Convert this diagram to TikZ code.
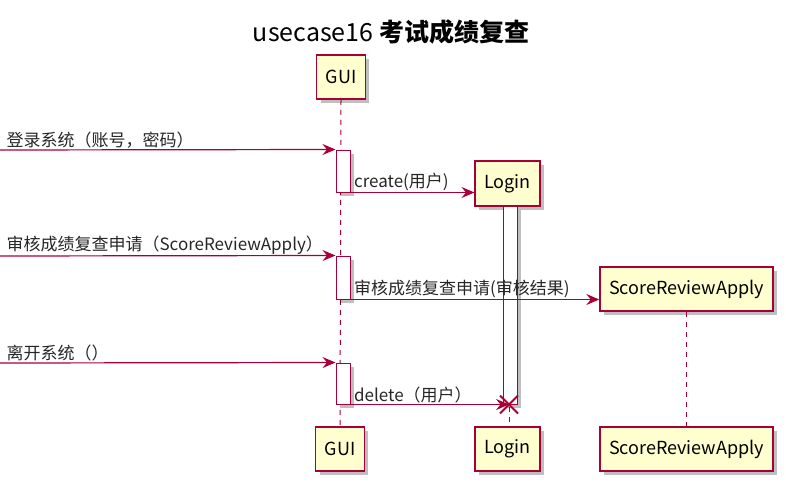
\documentclass[tikz,border=0pt]{standalone}
\usepackage{fontspec}
\setmainfont{Noto Sans CJK SC}
\usetikzlibrary{arrows.meta,shadows,positioning}
\definecolor{umlred}{HTML}{A80036}
\definecolor{umlfill}{HTML}{FEFECE}

\tikzset{
  umlshadow/.style={drop shadow={shadow xshift=4pt, shadow yshift=-4pt, fill=black, opacity=0.25}},
  actor/.style={rectangle, draw=umlred, line width=1.5pt, fill=umlfill, minimum height=44pt,
    inner xsep=9pt, font=\fontsize{18}{21}\selectfont, umlshadow},
  actbar/.style={rectangle, draw=umlred, line width=1pt, fill=white, minimum width=14pt, umlshadow},
  msg/.style={draw=umlred, line width=1.2pt, -{Stealth[length=13pt,width=11pt,inset=4.5pt]}},
  lifeline/.style={draw=umlred, line width=1pt, dash pattern=on 5pt off 5pt},
  msgtext/.style={font=\fontsize{17}{20}\selectfont, inner sep=1pt, anchor=south west, text=black!85},
}

\begin{document}
\begin{tikzpicture}[x=1pt, y=-1pt]
\useasboundingbox (0,0) rectangle (786,487);

  % title
  \node[font=\fontsize{25}{28}\selectfont] (title) at (391,32) {usecase16 \textbf{考试成绩复查}};

  % participants
  \node[actor] (gui) at (341,77) {GUI};
  \node[actor] (guib) at (340,449) {GUI};
  \node[actor, minimum height=45pt] (login) at (507.5,183.5) {Login};
  \node[actor] (loginb) at (507.5,449) {Login};
  \node[actor] (sra) at (686.5,289) {ScoreReviewApply};
  \node[actor] (srab) at (686.5,449) {ScoreReviewApply};

  % lifelines
  \draw[lifeline] (gui.south) -- (guib.north);
  \draw[lifeline] (login.south -| 509,0) -- (loginb.north -| 509,0);
  \draw[lifeline] (sra.south) -- (srab.north);

  % activations
  \node[actbar, minimum height=42pt] (act1) at (343,171) {};
  \node[actbar, minimum height=43pt] (act2) at (343,277.5) {};
  \node[actbar, minimum height=41pt] (act3) at (343,383.5) {};
  \node[actbar, minimum height=198pt] (loginact) at (510,305) {};

  % incoming messages
  \coordinate (in1) at (0,150);
  \coordinate (in2) at (0,256);
  \coordinate (in3) at (0,363);

  \draw[msg] (in1) -- node[msgtext, pos=0, xshift=5pt] {登录系统（账号，密码）} (act1.north west);
  \draw[msg] (act1.south east) -- node[msgtext, pos=0, xshift=2pt] {create(用户)} (act1.south east -| login.west);

  \draw[msg] (in2) -- node[msgtext, pos=0, xshift=5pt] {审核成绩复查申请（ScoreReviewApply）} (act2.north west);
  \draw[msg] (act2.south east) -- node[msgtext, pos=0, xshift=2pt] {审核成绩复查申请(审核结果)} (act2.south east -| sra.west);

  \draw[msg] (in3) -- node[msgtext, pos=0, xshift=5pt] {离开系统（）} (act3.north west);
  \coordinate (kill) at (loginact.south -| 509,0);
  \draw[msg] (act3.south east) -- node[msgtext, pos=0, xshift=2pt] {delete（用户）} (kill);

  % destroy mark
  \draw[umlred, line width=2pt] ([shift={(-9,-9)}]kill) -- ([shift={(9,9)}]kill)
                                ([shift={(-9,9)}]kill) -- ([shift={(9,-9)}]kill);

\end{tikzpicture}
\end{document}
